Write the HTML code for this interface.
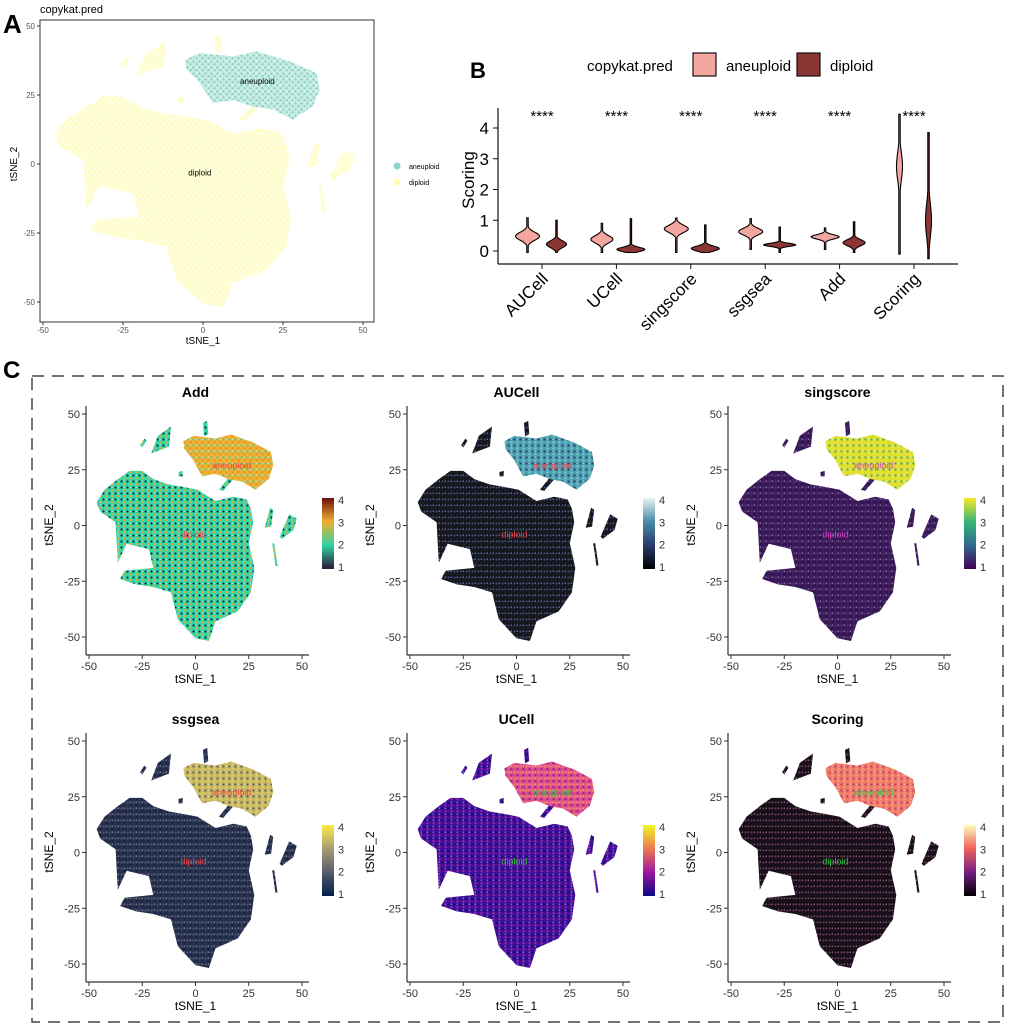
<!DOCTYPE html>
<html><head><meta charset="utf-8"><style>
body{margin:0;background:#fff}
svg{display:block;font-family:"Liberation Sans",Arial,sans-serif}
</style></head><body>
<svg id="fig" width="1020" height="1030" viewBox="0 0 1020 1030" xmlns="http://www.w3.org/2000/svg">
<defs id="defs"></defs>
<g id="root"></g>
</svg>
<script>
// ---- Panel B data ----
const categories = ["AUCell","UCell","singscore","ssgsea","Add","Scoring"];
const aneuMin    = [-0.05,-0.05,-0.05,0.05,0.05,-0.1];
const aneuMax    = [1.08,0.9,1.07,1.05,0.75,4.45];
const aneuCenter = [0.48,0.38,0.72,0.63,0.46,2.75];
const aneuSpread = [0.13,0.12,0.12,0.11,0.07,0.45];
const aneuWidth  = [12,11,12,12,14,3];
const dipMin     = [-0.05,-0.05,-0.05,-0.05,-0.05,-0.25];
const dipMax     = [1.0,1.05,0.85,0.78,0.95,3.85];
const dipCenter  = [0.22,0.05,0.08,0.2,0.27,1.0];
const dipSpread  = [0.11,0.07,0.08,0.05,0.1,0.55];
const dipWidth   = [10,14,14,16,11,3];
const yTicksB    = [0,1,2,3,4];
const sigLabels  = ["****","****","****","****","****","****"];
// ---- Panel C data ----
const panelTitles = ["Add","AUCell","singscore","ssgsea","UCell","Scoring"];
const colorbarTicks = [1,2,3,4];
const tsneTicks = [-50,-25,0,25,50];

const NS="http://www.w3.org/2000/svg";
const root=document.getElementById('root'), defs=document.getElementById('defs');
function el(tag,attrs,parent,text){const e=document.createElementNS(NS,tag);for(const k in attrs)e.setAttribute(k,attrs[k]);if(text!==undefined)e.textContent=text;(parent||root).appendChild(e);return e;}

const mainBlob=[[-46.4,10.5],[-42.7,16],[-36.5,20.8],[-31,24.5],[-25,24.5],[-19.8,20.8],[-12.5,18.4],[-5.2,17.2],[1,16],[9.4,11],[17.7,12.9],[24,11.7],[26,7.5],[27.1,1.5],[25,-8],[27.6,-19],[26,-30],[19.8,-38.5],[9.4,-43],[6.3,-51.8],[0,-50.6],[-8.3,-42],[-11.5,-30],[-19.8,-27.6],[-28,-26.4],[-35.4,-24],[-33.3,-20.3],[-19.8,-19],[-21.9,-10.6],[-32.3,-8.2],[-36.5,-16.7],[-37.5,1.5],[-44.8,6.3]];
const aneuBlob=[[-5.7,37.8],[-1,40.2],[9.4,39],[16.7,40.8],[27.1,37.2],[35.4,33],[36.5,27],[34.4,21],[28.1,16],[21.9,19.7],[15.6,20.8],[9.4,23.2],[3.1,22],[-1,29.3],[-5.2,34.4]];
const islands=[
 [[-20.8,32.3],[-17.7,40.2],[-11.5,44.4],[-12.5,35.4]],
 [[3.5,46],[5.5,47],[6,41],[4,40]],
 [[11,16],[13,15.5],[18,21],[16,22]],
 [[32.5,-1],[35,8],[36.5,7],[35.5,-0.5]],
 [[39.5,-5],[44,5],[47.5,3],[46,-2],[40.5,-6]],
 [[36,-8],[37,-8],[38.5,-18],[37.5,-18]],
 [[-26,36],[-24,39],[-23,38],[-25,35]],
 [[-8,24],[-6,24.5],[-6,22],[-8,22]]
];
function polyPts(p,X,Y){return p.map(q=>X(q[0]).toFixed(1)+','+Y(q[1]).toFixed(1)).join(' ');}
let patId=0;
function makePattern(base,dot,dot2){
 const id='pat'+(patId++);
 const p=el('pattern',{id:id,width:6,height:6,patternUnits:'userSpaceOnUse'},defs);
 el('rect',{x:0,y:0,width:6,height:6,fill:base},p);
 el('circle',{cx:1.5,cy:1.5,r:1.1,fill:dot},p);
 el('circle',{cx:4.5,cy:4.2,r:1.1,fill:dot2||dot},p);
 el('circle',{cx:4.3,cy:1.2,r:0.7,fill:'#fff','fill-opacity':0.5},p);
 return 'url(#'+id+')';
}
function drawClusters(g,X,Y,mainFill,aneuFill){
 el('polygon',{points:polyPts(mainBlob,X,Y),fill:mainFill},g);
 islands.forEach((isl)=>{const e=el('polygon',{points:polyPts(isl,X,Y),fill:mainFill},g);
 });
 el('polygon',{points:polyPts(aneuBlob,X,Y),fill:aneuFill},g);
}

// ---------- Panel A ----------
(function(){
 const g=el('g',{});
 el('text',{x:3,y:33,'font-size':26,'font-weight':'bold'},g,'A');
 el('text',{x:40,y:13,'font-size':11},g,'copykat.pred');
 const X=t=>203+t*3.2, Y=t=>164-t*2.76;
 drawClusters(g,X,Y,makePattern('#fffde0','#ffff9e'),makePattern('#c8ece5','#7fcfbf'));
 el('rect',{x:40,y:20,width:334,height:302,fill:'none',stroke:'#333','stroke-width':1},g);
 tsneTicks.forEach(t=>{
  el('line',{x1:X(t),x2:X(t),y1:322,y2:325,stroke:'#333'},g);
  el('text',{x:X(t),y:333,'font-size':8,fill:'#555','text-anchor':'middle'},g,t);
  el('line',{x1:37,x2:40,y1:Y(t),y2:Y(t),stroke:'#333'},g);
  el('text',{x:35,y:Y(t)+3,'font-size':8,fill:'#555','text-anchor':'end'},g,t);
 });
 el('text',{x:203,y:344,'font-size':10,'text-anchor':'middle'},g,'tSNE_1');
 el('text',{x:0,y:0,'font-size':10,'text-anchor':'middle',transform:'translate(17,164) rotate(-90)'},g,'tSNE_2');
 el('text',{x:X(17),y:Y(30)+3,'font-size':8,'text-anchor':'middle'},g,'aneuploid');
 el('text',{x:X(-1),y:Y(-3)+3,'font-size':8,'text-anchor':'middle'},g,'diploid');
 el('circle',{cx:397,cy:166,r:3.5,fill:'#8DD3C7'},g);
 el('text',{x:409,y:169,'font-size':7},g,'aneuploid');
 el('circle',{cx:397,cy:182,r:3.5,fill:'#FFFFB3'},g);
 el('text',{x:409,y:185,'font-size':7},g,'diploid');
})();

// ---------- Panel B ----------
(function(){
 const g=el('g',{});
 el('text',{x:470,y:78,'font-size':22,'font-weight':'bold'},g,'B');
 el('text',{x:587,y:71,'font-size':15},g,'copykat.pred');
 el('rect',{x:693,y:53,width:23,height:23,fill:'#F4A6A0',stroke:'#111','stroke-width':1.2},g);
 el('text',{x:726,y:71,'font-size':15},g,'aneuploid');
 el('rect',{x:797,y:53,width:23,height:23,fill:'#8B3535',stroke:'#111','stroke-width':1.2},g);
 el('text',{x:830,y:71,'font-size':15},g,'diploid');
 const Y=v=>251-v*30.75;
 const X=i=>542+i*74.4;
 el('line',{x1:498,x2:498,y1:108,y2:264,stroke:'#111','stroke-width':1.2},g);
 el('line',{x1:498,x2:958,y1:264,y2:264,stroke:'#111','stroke-width':1.2},g);
 yTicksB.forEach(v=>{
  el('line',{x1:493,x2:498,y1:Y(v),y2:Y(v),stroke:'#111'},g);
  el('text',{x:489,y:Y(v)+6,'font-size':17,'text-anchor':'end'},g,v);
 });
 el('text',{x:0,y:0,'font-size':17,'text-anchor':'middle',transform:'translate(474,180) rotate(-90)'},g,'Scoring');
 function violin(cx,mn,mx,c,s,w,fill,name){
  const n=60,R=[],L=[];
  for(let k=0;k<=n;k++){const v=mn+(mx-mn)*k/n;const hw=Math.max(0.7,w*Math.exp(-0.5*Math.pow((v-c)/s,2)));R.push([cx+hw,Y(v)]);L.push([cx-hw,Y(v)]);}
  const pts=R.concat(L.reverse()).map(p=>p[0].toFixed(1)+','+p[1].toFixed(1)).join(' ');
  const e=el('polygon',{points:pts,fill:fill,stroke:'#000','stroke-width':1.1},g);
  
 }
 categories.forEach((c,i)=>{
  const cx=X(i);
  el('line',{x1:cx,x2:cx,y1:264,y2:269,stroke:'#111'},g);
  el('text',{x:0,y:0,'font-size':17,'text-anchor':'end',transform:`translate(${cx+7},${280}) rotate(-45)`},g,c);
  violin(cx-14.5,aneuMin[i],aneuMax[i],aneuCenter[i],aneuSpread[i],aneuWidth[i],'#F4A6A0','violin-aneuploid-'+c);
  violin(cx+14.5,dipMin[i],dipMax[i],dipCenter[i],dipSpread[i],dipWidth[i],'#8B3535','violin-diploid-'+c);
  el('text',{x:cx,y:121,'font-size':15,'text-anchor':'middle'},g,sigLabels[i]);
 });
})();

// ---------- Panel C ----------
const panelStyles=[
 {main:['#34d8a8','#2a1f3a','#f0a830'],aneu:['#f0b030','#34d8a8','#e09020'],grad:['#2a1a3a','#30d0a0','#f0b030','#6a1010'],lab:'#e8404a'},
 {main:['#15151f','#3a4a7a','#222'],aneu:['#4a9fb0','#2a3a6a','#8cc8c8'],grad:['#000000','#2a3a6a','#4a8aa8','#e6f6f2'],lab:'#e8404a'},
 {main:['#3d1a5a','#47307e','#2a1048'],aneu:['#dde030','#4aa870','#f0e030'],grad:['#440154','#31688e','#35b779','#fde725'],lab:'#d040c0'},
 {main:['#27304c','#4a5570','#1a2240'],aneu:['#c8b860','#575c6d','#e0d070'],grad:['#00204d','#575c6d','#a69d75','#ffea46'],lab:'#e8404a'},
 {main:['#4010a0','#1a0a60','#b02890'],aneu:['#e05088','#f09050','#8a20a0'],grad:['#0d0887','#9c179e','#ed7953','#f0f921'],lab:'#30c040'},
 {main:['#151015','#7a2860','#2a0a30'],aneu:['#f07a68','#c03870','#f8a080'],grad:['#000004','#721f81','#f1605d','#fcfdbf'],lab:'#30c040'}
];
el('rect',{x:32,y:376,width:971,height:646,fill:'none',stroke:'#444','stroke-width':1.5,'stroke-dasharray':'12,8'});
el('text',{x:3,y:378,'font-size':24,'font-weight':'bold'},root,'C');
panelTitles.forEach((title,i)=>{
 const col=i%3,row=Math.floor(i/3);
 const ox=col*321,oy=row*327;
 const st=panelStyles[i];
 const g=el('g',{transform:`translate(${ox},${oy})`});
 
 
 const X=t=>195.5+t*2.13, Y=t=>525.5-t*2.23;
 drawClusters(g,X,Y,makePattern(st.main[0],st.main[1],st.main[2]),makePattern(st.aneu[0],st.aneu[1],st.aneu[2]));
 el('text',{x:195.5,y:397,'font-size':14,'font-weight':'bold','text-anchor':'middle'},g,title);
 el('line',{x1:86,x2:86,y1:406,y2:655,stroke:'#333','stroke-width':1.2},g);
 el('line',{x1:86,x2:309,y1:655,y2:655,stroke:'#333','stroke-width':1.2},g);
 tsneTicks.forEach(t=>{
  el('line',{x1:X(t),x2:X(t),y1:655,y2:659,stroke:'#333'},g);
  el('text',{x:X(t),y:670,'font-size':11,fill:'#333','text-anchor':'middle'},g,t);
  el('line',{x1:82,x2:86,y1:Y(t),y2:Y(t),stroke:'#333'},g);
  el('text',{x:80,y:Y(t)+4,'font-size':11,fill:'#333','text-anchor':'end'},g,t);
 });
 el('text',{x:195.5,y:683,'font-size':12,'text-anchor':'middle'},g,'tSNE_1');
 el('text',{x:0,y:0,'font-size':12,'text-anchor':'middle',transform:'translate(53,525) rotate(-90)'},g,'tSNE_2');
 el('text',{x:X(17),y:Y(27)+3,'font-size':9,fill:st.lab,'text-anchor':'middle'},g,'aneuploid');
 el('text',{x:X(-1),y:Y(-4)+3,'font-size':9,fill:st.lab,'text-anchor':'middle'},g,'diploid');
 const gid='grad'+i;
 const lg=el('linearGradient',{id:gid,x1:0,y1:1,x2:0,y2:0},defs);
 st.grad.forEach((c,k)=>el('stop',{offset:(k/(st.grad.length-1)),'stop-color':c},lg));
 el('rect',{x:322,y:498,width:12,height:71,fill:'url(#'+gid+')'},g);
 const CY=v=>567-(v-1)*22.3;
 colorbarTicks.forEach(v=>{
  el('text',{x:338,y:CY(v)+4,'font-size':11,fill:'#333'},g,v);
 });
});
</script>
</body></html>
